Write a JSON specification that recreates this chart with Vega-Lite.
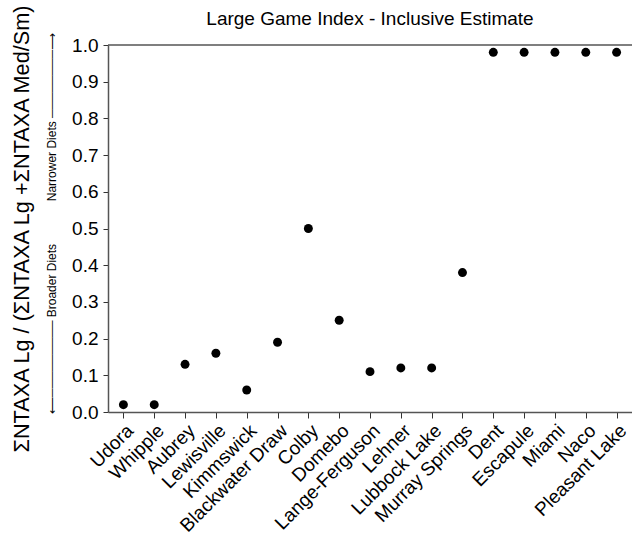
{
  "$schema": "https://vega.github.io/schema/vega-lite/v6.json",
  "width": 524,
  "height": 367,
  "autosize": {"type": "none"},
  "padding": {"left": 108, "top": 45, "right": 0, "bottom": 123},
  "config": {
    "font": "Liberation Sans",
    "view": {"stroke": null},
    "axis": {"labelColor": "black", "titleColor": "black", "domainColor": "#555555", "tickColor": "#333333", "grid": false, "labelFont": "Liberation Sans", "titleFont": "Liberation Sans", "titleFontWeight": "normal"}
  },
  "title": {"text": "Large Game Index - Inclusive Estimate", "fontSize": 19, "fontWeight": "normal", "color": "black", "anchor": "middle", "frame": "group", "offset": -26},
  "data": {"values": [
    {"site": "Udora", "value": 0.02},
    {"site": "Whipple", "value": 0.02},
    {"site": "Aubrey", "value": 0.13},
    {"site": "Lewisville", "value": 0.16},
    {"site": "Kimmswick", "value": 0.06},
    {"site": "Blackwater Draw", "value": 0.19},
    {"site": "Colby", "value": 0.50},
    {"site": "Domebo", "value": 0.25},
    {"site": "Lange-Ferguson", "value": 0.11},
    {"site": "Lehner", "value": 0.12},
    {"site": "Lubbock Lake", "value": 0.12},
    {"site": "Murray Springs", "value": 0.38},
    {"site": "Dent", "value": 0.98},
    {"site": "Escapule", "value": 0.98},
    {"site": "Miami", "value": 0.98},
    {"site": "Naco", "value": 0.98},
    {"site": "Pleasant Lake", "value": 0.98}
  ]},
  "layer": [
    {
      "mark": {"type": "point", "filled": true, "size": 80, "color": "black", "opacity": 1},
      "encoding": {
        "x": {"field": "site", "type": "nominal", "sort": null, "scale": {"type": "point", "padding": 0.5},
              "axis": {"title": null, "labelAngle": -45, "labelFontSize": 19, "tickSize": 6, "labelPadding": 3, "domainWidth": 1.5}},
        "y": {"field": "value", "type": "quantitative", "scale": {"domain": [0, 1]},
              "axis": {"orient": "left", "values": [0, 0.1, 0.2, 0.3, 0.4, 0.5, 0.6, 0.7, 0.8, 0.9, 1.0], "format": ".1f", "labelFontSize": 19, "tickSize": 5, "labelPadding": 5, "domainWidth": 1.5,
                       "title": "⟵───────── Broader Diets\u2003\u2003\u2003\u00a0\u00a0Narrower Diets ────────⟶", "titleFontSize": 12, "titlePadding": 13, "titleY": 178}}
      }
    },
    {
      "data": {"values": [{"top": 1}]},
      "mark": {"type": "rule", "color": "#555555", "strokeWidth": 1.5},
      "encoding": {
        "y": {"field": "top", "type": "quantitative", "scale": {"domain": [0, 1]},
              "axis": {"orient": "left", "labels": false, "ticks": false, "domain": false, "grid": false, "offset": 66,
                       "title": "ΣNTAXA Lg / (ΣNTAXA Lg +ΣNTAXA Med/Sm)", "titleFontSize": 21.7, "titlePadding": 9}}
      }
    }
  ],
  "resolve": {"scale": {"y": "independent"}}
}
